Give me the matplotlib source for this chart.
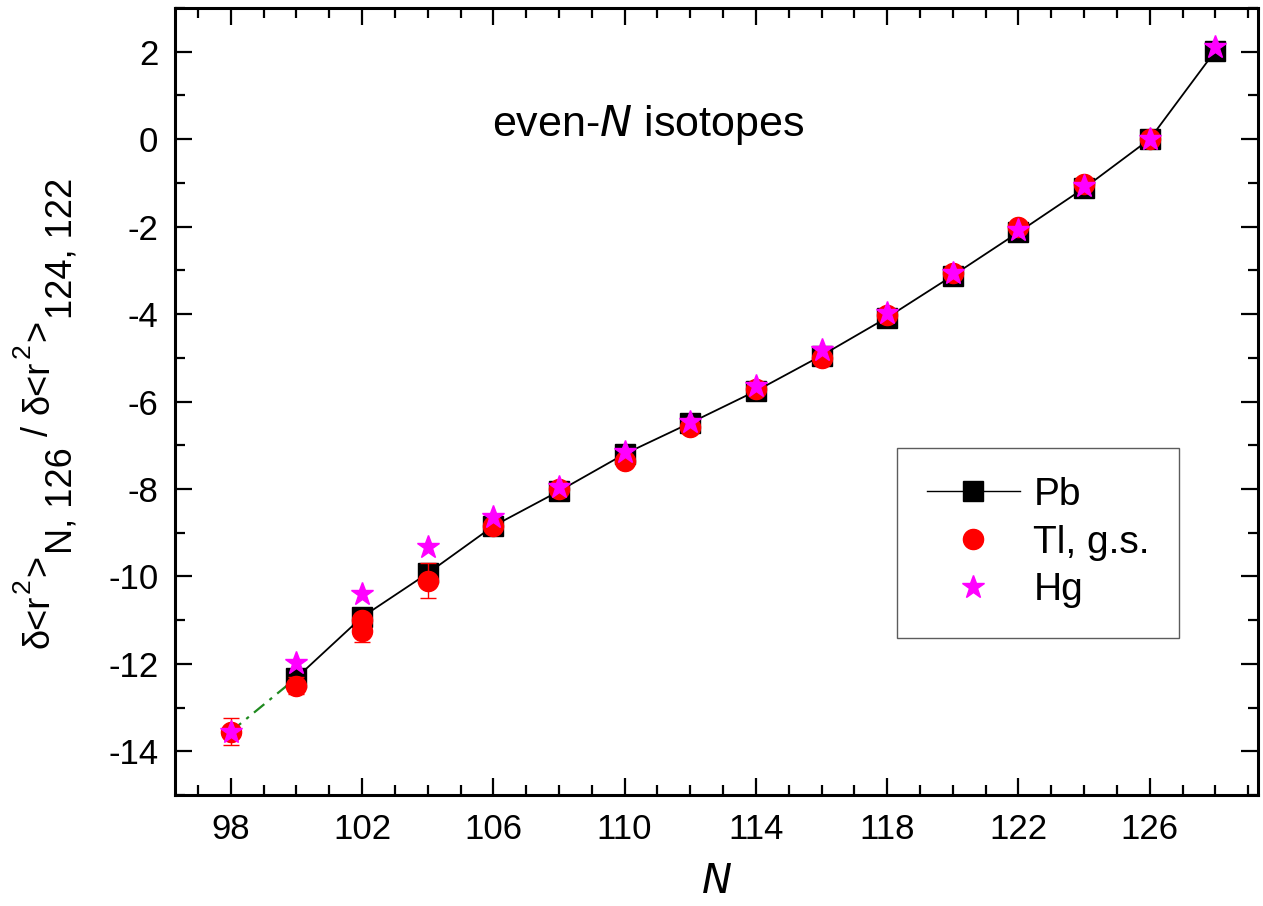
import numpy as np
import matplotlib
matplotlib.use("Agg")
import matplotlib.pyplot as plt
from matplotlib.lines import Line2D
from matplotlib.ticker import MultipleLocator
from matplotlib.transforms import IdentityTransform

plt.rcParams['font.family'] = ['Liberation Sans', 'DejaVu Sans']
plt.rcParams['axes.unicode_minus'] = False

# ratios of charge radii changes, even-N isotopes
n_pb = [100, 102, 104, 106, 108, 110, 112, 114, 116, 118, 120, 122, 124, 126, 128]
r_pb = [-12.32, -10.93, -9.93, -8.85, -8.05, -7.20, -6.49, -5.76, -4.95, -4.08,
        -3.12, -2.13, -1.12, 0.0, 2.02]

n_tl = [98, 100, 102, 102, 104, 106, 108, 110, 112, 114, 116, 118, 120, 122, 124, 126]
r_tl = [-13.55, -12.50, -11.00, -11.26, -10.10, -8.85, -8.00, -7.36, -6.58, -5.72,
        -5.00, -4.03, -3.05, -2.00, -1.02, 0.0]
e_tl = [0.30, 0.20, 0.0, 0.25, 0.40, 0.05, 0.05, 0.05, 0.05, 0.05,
        0.05, 0.05, 0.05, 0.05, 0.05, 0.0]

n_hg = [98, 100, 102, 104, 106, 108, 110, 112, 114, 116, 118, 120, 122, 124, 126, 128]
r_hg = [-13.55, -11.98, -10.41, -9.33, -8.65, -7.95, -7.15, -6.48, -5.65, -4.82,
        -3.98, -3.07, -2.08, -1.07, 0.0, 2.10]

fig = plt.figure(figsize=(12.63, 9.06), dpi=100)
ax = fig.add_axes([175/1263, 1 - 795/906, 1083/1263, 787/906])

# extrapolated link from N=98 to the first Pb point
ax.plot([n_tl[0], n_pb[0]], [r_tl[0], r_pb[0]], color='#1f8a1f', lw=1.6,
        dashes=(6, 3, 1.5, 3), zorder=2)

ax.plot(n_pb, r_pb, color='black', lw=1.3, marker='s', ms=14.5,
        mfc='black', mec='black', zorder=3)
ax.errorbar(n_tl, r_tl, yerr=e_tl, fmt='o', color='red', ms=14.5,
            ecolor='red', elinewidth=1.0, capsize=6, capthick=1.0, zorder=4)
ax.plot(n_hg, r_hg, ls='none', marker='*', ms=17, color='magenta',
        mec='magenta', zorder=5)

ax.set_xlim(96.3, 129.3)
ax.set_ylim(-15, 3)
ax.set_xticks(np.arange(98, 127, 4))
ax.xaxis.set_minor_locator(MultipleLocator(1))
ax.yaxis.set_major_locator(MultipleLocator(2))
ax.yaxis.set_minor_locator(MultipleLocator(1))
ax.tick_params(which='both', direction='in', top=True, right=True, width=1.6)
ax.tick_params(which='major', length=12, labelsize=25)
ax.tick_params(which='minor', length=7)
ax.tick_params(axis='x', which='major', pad=13)
ax.tick_params(axis='y', which='major', pad=12)
for s in ax.spines.values():
    s.set_linewidth(2.2)

ax.set_xlabel('$N$', fontsize=29, labelpad=12)

ax.text(0.437, 0.851, 'even-$\\mathit{N}$ isotopes', transform=ax.transAxes,
        fontsize=31, ha='center', va='center')

handles = [
    Line2D([], [], color='black', lw=1.0, marker='s', ms=15, mfc='black'),
    Line2D([], [], ls='none', marker='o', ms=14.5, color='red'),
    Line2D([], [], ls='none', marker='*', ms=17, color='magenta'),
]
labels = ['Pb', 'Tl, g.s.', 'Hg']
leg = ax.legend(handles, labels, loc='upper left', bbox_to_anchor=(0.667, 0.441),
                fontsize=28, frameon=True, fancybox=False, edgecolor='#333333',
                borderpad=0.75, labelspacing=0.3, handlelength=2.4,
                handletextpad=0.35, borderaxespad=0, numpoints=1)
leg.get_frame().set_linewidth(1.0)

# y label built from pieces so the subscripts keep full size
# (text, font size, baseline shift in px, gap after in px)
ylabel_parts = [('δ<r', 26, 0, 2), ('2', 19, -18, 2), ('>', 26, 0, 1),
                ('N, 126', 26, 24, 12), ('/', 26, 0, 12), ('δ<r', 26, 0, 2),
                ('2', 19, -18, 2), ('>', 26, 0, 1), ('124, 122', 26, 24, 0)]
fig.canvas.draw()
rend = fig.canvas.get_renderer()
base_x = 48
pieces = []
for s, size, dx, gap in ylabel_parts:
    t = fig.text(0, 0, s, fontsize=size, rotation=90,
                 rotation_mode='anchor', ha='left', va='baseline',
                 transform=IdentityTransform())
    pieces.append((t, dx, gap))
lengths = [t.get_window_extent(rend).height + gap for t, dx, gap in pieces]
y = (906 - 178) - sum(lengths)
for (t, dx, gap), ln in zip(pieces, lengths):
    t.set_position((base_x + dx, y))
    y += ln

fig.savefig('out.png', dpi=100)
